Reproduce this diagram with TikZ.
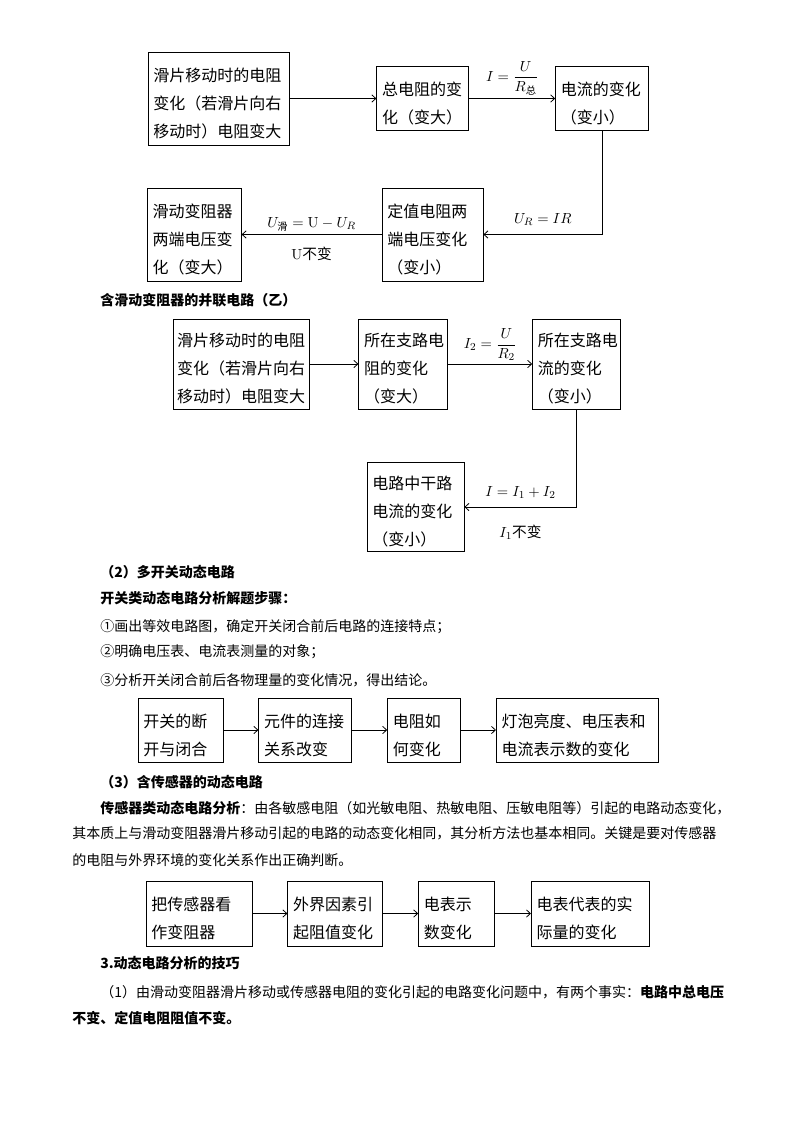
\documentclass[tikz,border=0pt]{standalone}
\usepackage[no-math]{fontspec}
\usepackage{amsmath}
\setmainfont{Noto Sans CJK SC}
\usetikzlibrary{
    positioning,      % relative placement of the boxes
    arrows.meta       % arrow tips
}

\begin{document}
\begin{tikzpicture}[
    % one unit = one pixel of the page
    x=0.75pt, y=-0.75pt,
    box_style/.style={
        draw, line width=0.6pt,
        align=left,
        inner xsep=4pt, inner ysep=0pt,
        font=\fontsize{12pt}{21pt}\selectfont,
        execute at begin node={\rule{0pt}{17.5pt}} % text sits a little low in the box
    },
    arrow_tip/.style={
        -{Straight Barb[length=3pt, width=5.5pt]},
        line width=0.6pt
    },
    label_style/.style={ % formulas on the connectors
        font=\fontsize{11pt}{13pt}\selectfont,
        inner sep=2pt
    },
    body_text/.style={ % running text of the page
        anchor=west, inner sep=0pt,
        font=\fontsize{10.5pt}{12pt}\selectfont
    },
    head_text/.style={
        body_text,
        font=\fontsize{10.5pt}{12pt}\selectfont\bfseries
    }
]
    \useasboundingbox (0,0) rectangle (794,1123);

    % 1. Series circuit: first row of boxes
    \node[box_style, minimum width=105.75pt, text width=97.75pt, minimum height=69.75pt] (slide_a) at (218.5,98.5) {滑片移动时的电阻\\变化（若滑片向右\\移动时）电阻变大};
    \node[box_style, minimum width=69pt, text width=61pt, minimum height=48pt, right=65.25pt of slide_a] (total_r) {总电阻的变\\化（变大）};
    \node[box_style, minimum width=69.75pt, text width=61.75pt, minimum height=48pt, right=64.5pt of total_r] (current_a) {电流的变化\\（变小）};

    % second row
    \node[box_style, minimum width=75.75pt, text width=67.75pt, minimum height=69.75pt] (fixed_u) at (432.5,234.5) {定值电阻两\\端电压变化\\（变小）};
    \node[box_style, minimum width=70.5pt, text width=62.5pt, minimum height=69.75pt, left=105pt of fixed_u] (slide_u) {滑动变阻器\\两端电压变\\化（变大）};

    \draw[arrow_tip] (slide_a.east) -- (total_r.west);
    \draw[arrow_tip] (total_r.east) -- node[label_style, above] {$I=\dfrac{U}{R_{\text{总}}}$} (current_a.west);
    \draw[arrow_tip] (current_a.south) |- node[label_style, pos=0.75, above=4.5pt] {$U_R = IR$} (fixed_u.east);
    \draw[arrow_tip] (fixed_u.west) -- node[label_style, above] {$U_{\text{滑}} = \mathrm{U} - U_R$} node[label_style, below=7pt] {$\mathrm{U}$不变} (slide_u.east);

    % 2. Parallel circuit
    \node[head_text] (head_par) at (100,300) {含滑动变阻器的并联电路（乙）};
    \node[box_style, minimum width=102pt, text width=96pt, inner xsep=3pt, minimum height=67.5pt] (slide_b) at (241,364) {滑片移动时的电阻\\变化（若滑片向右\\移动时）电阻变大};
    \node[box_style, minimum width=66.75pt, text width=58.75pt, minimum height=67.5pt, right=36.75pt of slide_b] (branch_r) {所在支路电\\阻的变化\\（变大）};
    \node[box_style, minimum width=66pt, text width=58pt, minimum height=67.5pt, right=63pt of branch_r] (branch_i) {所在支路电\\流的变化\\（变小）};
    \node[box_style, minimum width=72.75pt, text width=64.75pt, minimum height=66.75pt] (main_i) at (415.5,507) {电路中干路\\电流的变化\\（变小）};

    \draw[arrow_tip] (slide_b.east) -- (branch_r.west);
    \draw[arrow_tip] (branch_r.east) -- node[label_style, above] {$I_2=\dfrac{U}{R_2}$} (branch_i.west);
    \draw[arrow_tip] (branch_i.south) |- node[label_style, pos=0.75, above=4pt] {$I = I_1 + I_2$} node[label_style, pos=0.75, below=11pt] {$I_1$不变} (main_i.east);

    % 3. Circuits with switches
    \node[head_text] (head_two) at (100,572) {（2）多开关动态电路};
    \node[head_text] (steps) at (100,598) {开关类动态电路分析解题步骤：};
    \node[body_text] (step_one) at (100,627) {①画出等效电路图，确定开关闭合前后电路的连接特点；};
    \node[body_text] (step_two) at (100,652) {②明确电压表、电流表测量的对象；};
    \node[body_text] (step_three) at (100,680) {③分析开关闭合前后各物理量的变化情况，得出结论。};

    \node[box_style, minimum width=63.75pt, text width=55.75pt, minimum height=48pt] (switch) at (180.5,730) {开关的断\\开与闭合};
    \node[box_style, minimum width=69.75pt, text width=61.75pt, minimum height=48pt, right=26.25pt of switch] (link) {元件的连接\\关系改变};
    \node[box_style, minimum width=54.75pt, text width=46.75pt, minimum height=48pt, right=26.25pt of link] (resist) {电阻如\\何变化};
    \node[box_style, minimum width=121.5pt, text width=113.5pt, minimum height=48pt, right=26.25pt of resist] (meters) {灯泡亮度、电压表和\\电流表示数的变化};

    \draw[arrow_tip] (switch.east) -- (link.west);
    \draw[arrow_tip] (link.east) -- (resist.west);
    \draw[arrow_tip] (resist.east) -- (meters.west);

    % 4. Circuits with sensors
    \node[head_text] (head_three) at (100,782) {（3）含传感器的动态电路};
    \node[body_text] (para_one) at (100,808) {{\bfseries 传感器类动态电路分析}：由各敏感电阻（如光敏电阻、热敏电阻、压敏电阻等）引起的电路动态变化，};
    \node[body_text] (para_two) at (72,833) {其本质上与滑动变阻器滑片移动引起的电路的动态变化相同，其分析方法也基本相同。关键是要对传感器};
    \node[body_text] (para_three) at (72,860) {的电阻与外界环境的变化关系作出正确判断。};

    \node[box_style, minimum width=79.5pt, text width=71.5pt, minimum height=48.75pt] (sensor) at (199,913.5) {把传感器看\\作变阻器};
    \node[box_style, minimum width=71.25pt, text width=63.25pt, minimum height=48.75pt, right=26.25pt of sensor] (outside) {外界因素引\\起阻值变化};
    \node[box_style, minimum width=57pt, text width=49pt, minimum height=48.75pt, right=26.25pt of outside] (reading) {电表示\\数变化};
    \node[box_style, minimum width=88.5pt, text width=80.5pt, minimum height=48.75pt, right=27pt of reading] (quantity) {电表代表的实\\际量的变化};

    \draw[arrow_tip] (sensor.east) -- (outside.west);
    \draw[arrow_tip] (outside.east) -- (reading.west);
    \draw[arrow_tip] (reading.east) -- (quantity.west);

    % 5. Tips
    \node[head_text] (head_tips) at (100,963) {3.动态电路分析的技巧};
    \node[body_text] (tip_one) at (100,992) {（1）由滑动变阻器滑片移动或传感器电阻的变化引起的电路变化问题中，有两个事实：{\bfseries 电路中总电压}};
    \node[head_text] (tip_two) at (72,1018) {不变、定值电阻阻值不变。};

\end{tikzpicture}
\end{document}
